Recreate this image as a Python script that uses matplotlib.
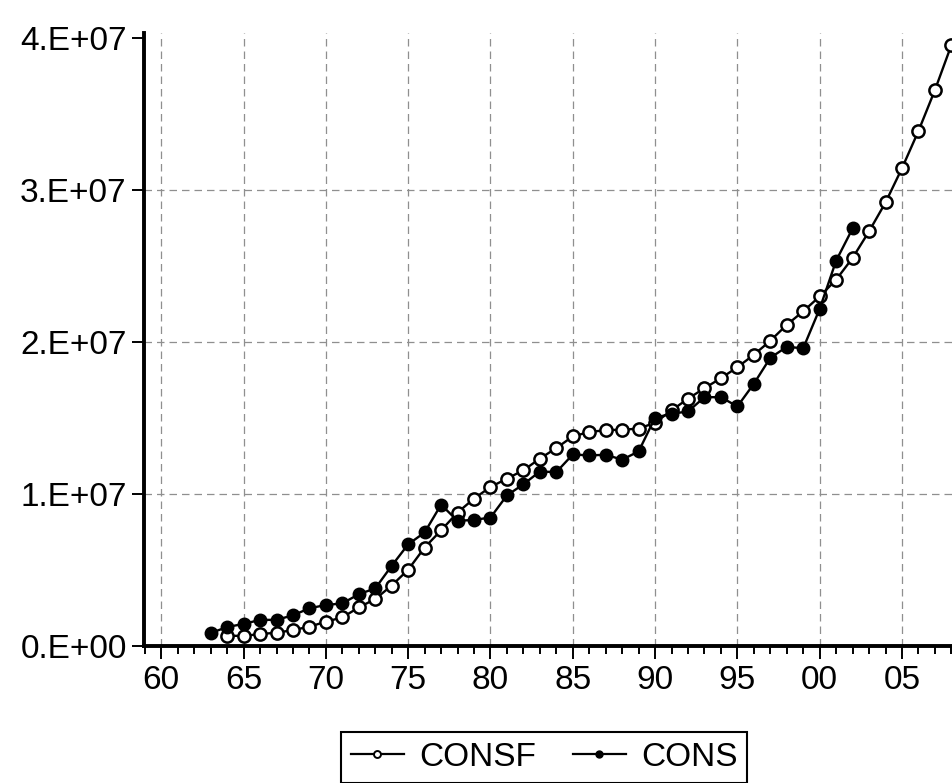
import matplotlib
matplotlib.use("Agg")
import matplotlib.pyplot as plt
from matplotlib.lines import Line2D
from matplotlib.ticker import FixedLocator, MultipleLocator, FuncFormatter

plt.rcParams['font.family'] = ['Liberation Sans', 'DejaVu Sans']

cons_years = list(range(1963, 2003))
cons = [0.85, 1.25, 1.45, 1.72, 1.72, 2.02, 2.48, 2.70, 2.80, 3.41,
        3.79, 5.28, 6.69, 7.47, 9.30, 8.23, 8.30, 8.45, 9.91, 10.64,
        11.48, 11.44, 12.60, 12.54, 12.58, 12.26, 12.80, 15.02, 15.28, 15.43,
        16.37, 16.37, 15.76, 17.25, 18.96, 19.68, 19.59, 22.18, 25.35, 27.47]
cons = [v * 1e6 for v in cons]

consf_years = list(range(1964, 2009))
consf = [0.68, 0.66, 0.79, 0.87, 1.05, 1.27, 1.60, 1.88, 2.54, 3.09,
         3.98, 5.02, 6.48, 7.61, 8.78, 9.70, 10.46, 11.01, 11.56, 12.33,
         13.02, 13.79, 14.08, 14.20, 14.23, 14.30, 14.69, 15.50, 16.27, 16.96,
         17.62, 18.34, 19.16, 20.08, 21.13, 22.02, 23.00, 24.10, 25.53, 27.28,
         29.18, 31.43, 33.88, 36.57, 39.53]
consf = [v * 1e6 for v in consf]

y_ticks = [0, 1e7, 2e7, 3e7, 4e7]
x_major = list(range(1960, 2010, 5))

W, H = 953, 783
fig = plt.figure(figsize=(W / 100, H / 100), dpi=100)
ax = fig.add_axes([144 / W, 137 / H, (W - 144) / W, (646 - 33) / H])

ax.plot(consf_years, consf, color='black', lw=1.7, marker='o', ms=8.8,
        mfc='white', mec='black', mew=1.8, zorder=3, clip_on=False)
ax.plot(cons_years, cons, color='black', lw=1.7, marker='o', ms=8.8,
        mfc='black', mec='black', mew=1.2, zorder=4, clip_on=False)

ax.set_xlim(1958.95, 2008.1)
ax.set_ylim(0, 4.033e7)

ax.xaxis.set_major_locator(FixedLocator(x_major))
ax.xaxis.set_minor_locator(MultipleLocator(1))
ax.xaxis.set_major_formatter(FuncFormatter(lambda v, p: f"{int(round(v)) % 100:02d}"))
ax.yaxis.set_major_locator(FixedLocator(y_ticks))

def yfmt(v, p):
    if v == 0:
        return "0.E+00"
    return f"{v / 1e7:.0f}.E+07"

ax.yaxis.set_major_formatter(FuncFormatter(yfmt))

for s in ['top', 'right']:
    ax.spines[s].set_visible(False)
for s in ['left', 'bottom']:
    ax.spines[s].set_linewidth(2.8)
    ax.spines[s].set_color('black')

ax.tick_params(axis='both', which='major', direction='out', labelsize=24,
               color='black', width=1.4)
ax.tick_params(axis='y', which='major', length=8.5, pad=4)
ax.tick_params(axis='x', which='major', length=9, pad=5)
ax.tick_params(axis='x', which='minor', length=5.5, width=1.4, direction='out')

ax.grid(True, which='major', axis='both', linestyle=(0, (6, 4)), color='#8f8f8f', lw=0.9)
ygl = ax.get_ygridlines()
ygl[-1].set_visible(False)
ygl[0].set_visible(False)
ax.set_axisbelow(True)

handles = [
    Line2D([], [], color='black', lw=1.6, marker='o', ms=5, mfc='white', mec='black', mew=1.4),
    Line2D([], [], color='black', lw=1.6, marker='o', ms=5, mfc='black', mec='black'),
]
leg = fig.legend(handles, ['CONSF', 'CONS'], loc='upper center',
                 bbox_to_anchor=(544 / W, 1 - 732 / H), ncol=2, fontsize=24,
                 frameon=True, fancybox=False, edgecolor='black', framealpha=1,
                 handlelength=1.6, handletextpad=0.45, columnspacing=1.1,
                 borderpad=0.3, borderaxespad=0)
leg.get_frame().set_linewidth(1.5)

fig.savefig('out.png', dpi=100)
